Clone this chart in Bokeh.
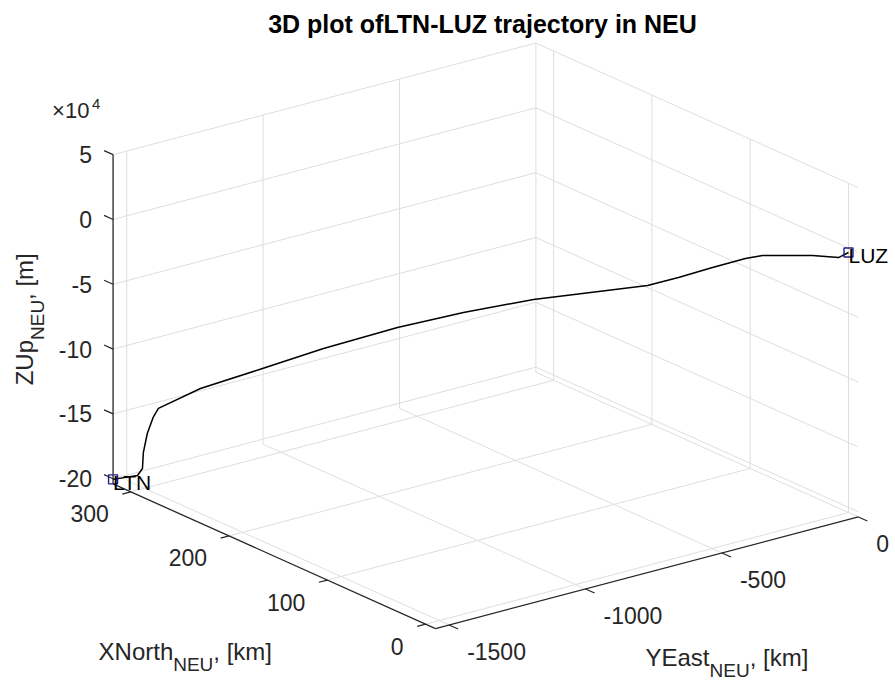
import numpy as np
from bokeh.plotting import figure
from bokeh.models import Range1d
from bokeh.embed import file_html
from bokeh.resources import INLINE
from bokeh.core.properties import value

# ---------------- data ----------------
# trajectory LTN -> LUZ in a local NEU frame (origin at LUZ)
north_km = [318.0, 307.4, 305.3, 304.9, 303.2, 300.7, 298.4, 280.2, 253.4, 227.0,
            195.0, 166.5, 136.2, 86.9, 73.5, 58.8, 44.6, 37.2, 15.6, 4.3, 0.0]
east_km = [-1550.0, -1498.5, -1488.0, -1486.1, -1477.9, -1465.5, -1454.4, -1365.9,
           -1235.0, -1106.5, -950.6, -811.4, -663.9, -423.6, -358.4, -286.6,
           -217.2, -181.2, -76.0, -21.1, 0.0]
up_m = [-200500, -196750, -191200, -178800, -164100, -151500, -144400, -127800,
        -110500, -93200, -74800, -61200, -49100, -34900, -27800, -19100,
        -11100, -8300, -6800, -7600, -3400]

endpoint_names = ["LTN", "LUZ"]

x_ticks = [0, 100, 200, 300]
x_tick_labels = ["0", "100", "200", "300"]
y_ticks = [-1500, -1000, -500, 0]
y_tick_labels = ["-1500", "-1000", "-500", "0"]
z_ticks = [-200000, -150000, -100000, -50000, 0, 50000]
z_tick_labels = ["-20", "-15", "-10", "-5", "0", "5"]

x_lim = (-10.0, 318.0)
y_lim = (-1550.0, 0.0)
z_lim = (-204000.0, 50000.0)

title_text = "3D plot ofLTN-LUZ trajectory in NEU"

# ---------------- orthographic view (screen px per data unit) ----------------
ORIGIN = (848.0, 247.6)
EX = (-0.983, -0.441)
EY = (0.2728, -0.072)
EZ = (0.0, -0.0012963)


def proj(X, Y, Z):
    X = np.asarray(X, dtype=float)
    Y = np.asarray(Y, dtype=float)
    Z = np.asarray(Z, dtype=float)
    sx = ORIGIN[0] + EX[0] * X + EY[0] * Y + EZ[0] * Z
    sy = ORIGIN[1] + EX[1] * X + EY[1] * Y + EZ[1] * Z
    return sx, sy


FONT = value("Liberation Sans")
TICK_COLOR = "#262626"
GRID_COLOR = "#dedede"

p = figure(width=895, height=682, x_range=Range1d(0, 895), y_range=Range1d(682, 0),
           output_backend="svg", toolbar_location=None, min_border=0,
           x_axis_type=None, y_axis_type=None)
p.outline_line_color = None
p.background_fill_color = "white"
p.border_fill_color = "white"

X0, X1 = x_lim
Y0, Y1 = y_lim
Z0, Z1 = z_lim

# ---------------- grid lines on the three back planes ----------------
segs = []
for yt in y_ticks:
    segs.append(((X1, yt, Z0), (X1, yt, Z1)))
for zt in z_ticks:
    segs.append(((X1, Y0, zt), (X1, Y1, zt)))
for xt in x_ticks:
    segs.append(((xt, Y1, Z0), (xt, Y1, Z1)))
for zt in z_ticks:
    segs.append(((X0, Y1, zt), (X1, Y1, zt)))
for xt in x_ticks:
    segs.append(((xt, Y0, Z0), (xt, Y1, Z0)))
for yt in y_ticks:
    segs.append(((X0, yt, Z0), (X1, yt, Z0)))

a = np.array([s[0] for s in segs])
b = np.array([s[1] for s in segs])
gx0, gy0 = proj(a[:, 0], a[:, 1], a[:, 2])
gx1, gy1 = proj(b[:, 0], b[:, 1], b[:, 2])
p.segment(gx0, gy0, gx1, gy1, line_color=GRID_COLOR, line_width=1)

# ---------------- axis lines ----------------
ax_a = np.array([(X0, Y0, Z0), (X0, Y0, Z0), (X1, Y0, Z0)])
ax_b = np.array([(X1, Y0, Z0), (X0, Y1, Z0), (X1, Y0, Z1)])
ax0, ay0 = proj(ax_a[:, 0], ax_a[:, 1], ax_a[:, 2])
ax1, ay1 = proj(ax_b[:, 0], ax_b[:, 1], ax_b[:, 2])
p.segment(ax0, ay0, ax1, ay1, line_color=TICK_COLOR, line_width=1.3)

# ---------------- tick marks ----------------
zt = np.array(z_ticks, dtype=float)
tx0, ty0 = proj(np.full_like(zt, X1), np.full_like(zt, Y0), zt)
tx1, ty1 = proj(np.full_like(zt, X1 + 0.028 * (X1 - X0)), np.full_like(zt, Y0), zt)
p.segment(tx0, ty0, tx1, ty1, line_color=TICK_COLOR, line_width=1.2)

xt = np.array(x_ticks, dtype=float)
xx0, xy0 = proj(xt, np.full_like(xt, Y0), np.full_like(xt, Z0))
xx1, xy1 = proj(xt, np.full_like(xt, Y0 - 0.02 * (Y1 - Y0)), np.full_like(xt, Z0))
p.segment(xx0, xy0, xx1, xy1, line_color=TICK_COLOR, line_width=1.2)

yt = np.array(y_ticks, dtype=float)
yx0, yy0 = proj(np.full_like(yt, X0), yt, np.full_like(yt, Z0))
yx1, yy1 = proj(np.full_like(yt, X0 - 0.028 * (X1 - X0)), yt, np.full_like(yt, Z0))
p.segment(yx0, yy0, yx1, yy1, line_color=TICK_COLOR, line_width=1.2)

# ---------------- tick labels ----------------
TICK_SIZE = "23px"
p.text(tx0 - 21, ty0, text=z_tick_labels, text_font=FONT, text_font_size=TICK_SIZE,
       text_color=TICK_COLOR, text_align="right", text_baseline="middle")
p.text(xx0 - 22, xy0 + 22, text=x_tick_labels, text_font=FONT, text_font_size=TICK_SIZE,
       text_color=TICK_COLOR, text_align="right", text_baseline="middle")
p.text(yx0 + 18, yy0 + 27, text=y_tick_labels, text_font=FONT, text_font_size=TICK_SIZE,
       text_color=TICK_COLOR, text_align="left", text_baseline="middle")

# exponent marker of the z axis
ztop_x, ztop_y = proj([X1], [Y0], [Z1])
p.text([ztop_x[0] - 61], [ztop_y[0] - 44], text=["\u00d710"], text_font=FONT,
       text_font_size="22px", text_color=TICK_COLOR, text_align="left",
       text_baseline="middle")
p.text([ztop_x[0] - 21], [ztop_y[0] - 51], text=["4"], text_font=FONT,
       text_font_size="15px", text_color=TICK_COLOR, text_align="left",
       text_baseline="middle")

# ---------------- axis labels with subscripts ----------------
ARIAL = {'X': 667, 'N': 722, 'o': 556, 'r': 333, 't': 278, 'h': 556, 'E': 667,
         'U': 722, ',': 278, ' ': 278, '[': 278, 'k': 500, 'm': 833, ']': 278,
         'Y': 667, 'a': 556, 's': 500, 'Z': 611, 'p': 556}


def tw(s, size):
    return sum(ARIAL.get(c, 556) for c in s) / 1000.0 * size


def label_pieces(main, unit, size=24, sub_size=19):
    return [(main, size, 0.0), ("NEU", sub_size, 13.0), (unit, size, 0.0)]


def draw_hlabel(cx, cy, pieces):
    total = sum(tw(t, s) for t, s, _ in pieces)
    x = cx - total / 2.0
    for t, s, drop in pieces:
        p.text([x], [cy + drop], text=[t], text_font=FONT, text_font_size=f"{s}px",
               text_color=TICK_COLOR, text_align="left", text_baseline="middle")
        x += tw(t, s)


def draw_vlabel(cx, cy, pieces):
    total = sum(tw(t, s) for t, s, _ in pieces)
    y = cy + total / 2.0
    for t, s, drop in pieces:
        p.text([cx + drop], [y], text=[t], text_font=FONT, text_font_size=f"{s}px",
               text_color=TICK_COLOR, text_align="left", text_baseline="middle",
               angle=np.pi / 2)
        y -= tw(t, s)


mx, my = proj([(X0 + X1) / 2], [Y0], [Z0])
draw_hlabel(mx[0] - 89, my[0] + 95, label_pieces("XNorth", ", [km]"))
mx, my = proj([X0], [(Y0 + Y1) / 2], [Z0])
draw_hlabel(mx[0] + 80, my[0] + 85, label_pieces("YEast", ", [km]"))
mx, my = proj([X1], [Y0], [(Z0 + Z1) / 2])
draw_vlabel(mx[0] - 89, my[0], label_pieces("ZUp", ", [m]"))

# ---------------- title ----------------
p.text([482], [23], text=[title_text], text_font=FONT, text_font_size="25px",
       text_font_style="bold", text_color="black", text_align="center",
       text_baseline="middle")

# ---------------- trajectory ----------------
sx, sy = proj(north_km, east_km, up_m)
p.line(sx, sy, line_color="black", line_width=1.5)

ex_, ey_ = sx[[0, -1]], sy[[0, -1]]
p.scatter(ex_, ey_, marker="square", size=9, fill_color=None,
          line_color="#1f1f8f", line_width=1.4)
p.text(ex_, ey_ + 3, text=endpoint_names, text_font=FONT, text_font_size="21px",
       text_color="black", text_align="left", text_baseline="middle")

open("out.html", "w").write(file_html(p, INLINE))
